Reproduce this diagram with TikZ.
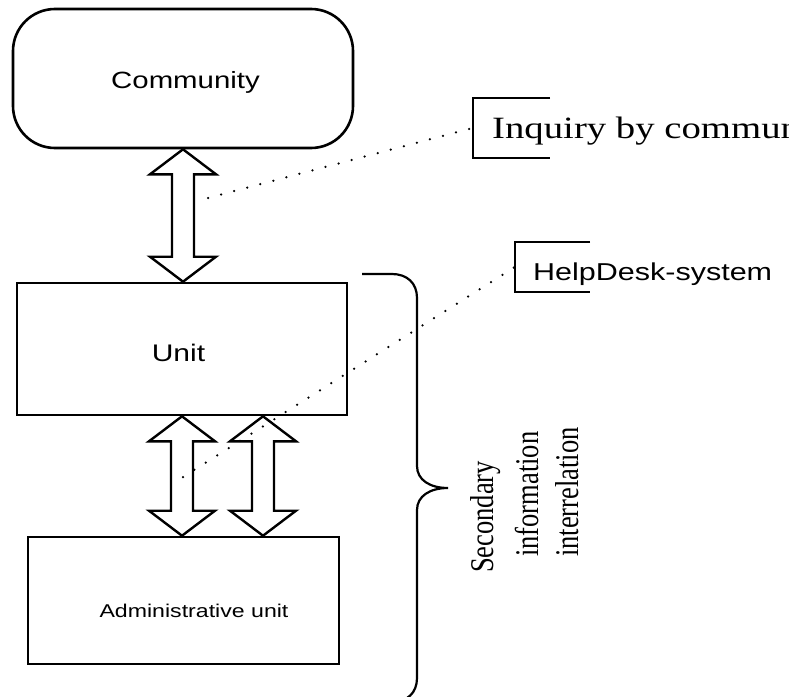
\documentclass[tikz,border=0pt]{standalone}
\usepackage{fontspec}
\usepackage{graphicx}
\setmainfont{Liberation Serif}
\newfontfamily\arialf{Liberation Sans}
\usetikzlibrary{calc}
\tikzset{
  boxln/.style={draw=black, line width=2.6pt, inner sep=0pt},
  blk/.style={draw=black, line width=2.4pt, line join=miter},
  dots/.style={line width=2.5pt, line cap=round, dash pattern=on 0pt off 13.5pt},
  brk/.style={draw=black, line width=2.4pt, line join=miter},
  bracestyle/.style={draw=black, line width=2.2pt},
  lbl/.style={inner sep=0pt, anchor=base},
  lblw/.style={inner sep=0pt, anchor=base west},
  frame/.style={inner sep=0pt, draw=none},
}
\newcommand\mydblarrow[2]{%
  \draw[blk] (#1) -- ($(#1)+(33,25)$) -- ($(#1)+(11,25)$) -- ($(#2)+(11,-25)$)
    -- ($(#2)+(33,-25)$) -- (#2) -- ($(#2)+(-33,-25)$) -- ($(#2)+(-11,-25)$)
    -- ($(#1)+(-11,25)$) -- ($(#1)+(-33,25)$) -- cycle;}
\begin{document}
\begin{tikzpicture}[x=1pt,y=-1pt]
\useasboundingbox (0,0) rectangle (789,696);
\clip (0,0) rectangle (789,696);
\fill[white] (0,0) rectangle (789,696);

% boxes
\node[boxln, rounded corners=42pt, minimum width=340pt, minimum height=139pt] (comm) at (183,78.5) {};
\node[boxln, minimum width=330pt, minimum height=132pt] (unit) at (182,349) {};
\node[boxln, minimum width=311pt, minimum height=127pt] (admin) at (183.5,600.5) {};

% box texts
\node[lbl] (commt) at (185.5,88) {\arialf\fontsize{23.5}{28}\selectfont\scalebox{1.25}[1]{Community}};
\node[lbl] (unitt) at (178.5,361) {\arialf\fontsize{24}{28}\selectfont\scalebox{1.25}[1]{Unit}};
\node[lbl] (admint) at (194,617) {\arialf\fontsize{18.5}{22}\selectfont\scalebox{1.25}[1]{Administrative unit}};

% callouts
\node[frame, minimum width=77pt, minimum height=60pt] (iqb) at (511.5,128) {};
\draw[brk] (iqb.north east) -- (iqb.north west) -- (iqb.south west) -- (iqb.south east);
\node[lblw] (iqt) at (492,138) {\fontsize{31}{36}\selectfont\scalebox{1.25}[1]{Inquiry by community}};

\node[frame, minimum width=75pt, minimum height=50pt] (hdb) at (552.5,267) {};
\draw[brk] (hdb.north east) -- (hdb.north west) -- (hdb.south west) -- (hdb.south east);
\node[lblw] (hdt) at (533,280) {\arialf\fontsize{24.4}{28}\selectfont\scalebox{1.25}[1]{HelpDesk-system}};

% block arrows
\coordinate (a1t) at (comm.south);
\coordinate (a1b) at (unit.north -| a1t);
\coordinate (a2t) at (unit.south);
\coordinate (a2b) at (admin.north -| a2t);
\coordinate (a3t) at ($(unit.south)+(81,0)$);
\coordinate (a3b) at (admin.north -| a3t);
\mydblarrow{a1t}{a1b}
\mydblarrow{a2t}{a2b}
\mydblarrow{a3t}{a3b}

% dotted leaders
\coordinate (d1) at (208,198);
\draw[dots] (d1) -- (iqb.west);
\coordinate (d2) at (183,477);
\draw[dots] (d2) -- (hdb.west);

% brace
\draw[bracestyle] (362,274) -- (392,274) .. controls (407,274) and (417,283) .. (417,298)
  -- (417,466) .. controls (417,480) and (430,488) .. (448,488)
  .. controls (430,488) and (417,496) .. (417,510)
  -- (417,678) .. controls (417,693) and (407,702) .. (392,702) -- (362,702);

% rotated label
\node[rotate=90, lblw] (s1) at (493,573) {\fontsize{26.5}{30}\selectfont\scalebox{1}[1.25]{Secondary}};
\node[rotate=90, lblw] (s2) at (538,557) {\fontsize{26.5}{30}\selectfont\scalebox{1}[1.25]{information}};
\node[rotate=90, lblw] (s3) at (578,557) {\fontsize{26.5}{30}\selectfont\scalebox{1}[1.25]{interrelation}};
\end{tikzpicture}
\end{document}
